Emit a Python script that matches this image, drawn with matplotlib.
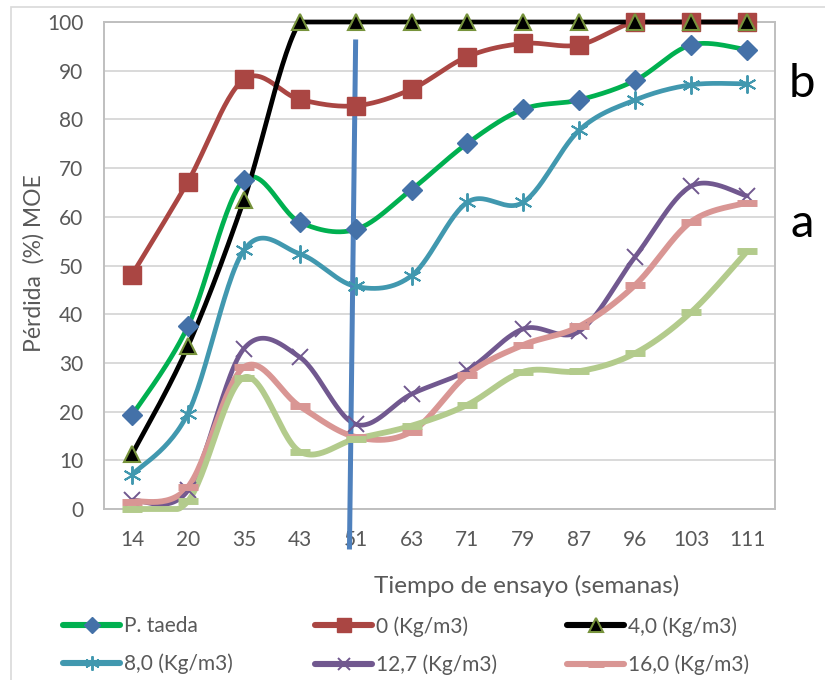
import numpy as np
import matplotlib
matplotlib.use('Agg')
import matplotlib.pyplot as plt
from matplotlib.lines import Line2D
from matplotlib.patches import Rectangle

plt.rcParams['font.family'] = ['Lato', 'DejaVu Sans']

# data
semanas = ['14', '20', '35', '43', '51', '63', '71', '79', '87', '96', '103', '111']
p_taeda = [19.2, 37.5, 67.5, 58.9, 57.4, 65.6, 75.1, 82.1, 84.0, 88.0, 95.3, 94.3]
dosis_0 = [48.1, 67.2, 88.2, 84.1, 82.8, 86.2, 92.9, 95.6, 95.3, 100, 100, 100]
dosis_4 = [11.2, 33.4, 63.4, 100, 100, 100, 100, 100, 100, 100, 100, 100]
dosis_8 = [7.0, 19.6, 53.1, 52.4, 45.7, 47.9, 63.0, 63.0, 77.8, 84.0, 87.1, 87.3]
dosis_12 = [1.8, 3.8, 32.9, 31.2, 17.4, 23.6, 28.5, 37.0, 36.5, 51.8, 66.3, 64.3]
dosis_16 = [1.5, 4.5, 29.1, 21.1, 14.8, 15.9, 27.6, 33.7, 37.5, 46.0, 59.0, 62.9]
sin_leyenda = [0.0, 1.6, 27.0, 11.8, 14.4, 17.1, 21.4, 28.2, 28.3, 32.0, 40.4, 52.9]

# hand drawn marker line at week 51 (top/bottom in data units)
corte_x = [4.0, 3.89]
corte_y = [95.9, -7.8]

gris = '#595959'


def smooth(y, n=30):
    # excel-like smoothed line (catmull-rom as bezier)
    x = np.arange(len(y), dtype=float)
    y = np.asarray(y, dtype=float)
    pts = np.column_stack([x, y])
    out = []
    for i in range(len(pts) - 1):
        p0 = pts[max(i - 1, 0)]
        p1 = pts[i]
        p2 = pts[i + 1]
        p3 = pts[min(i + 2, len(pts) - 1)]
        c1 = p1 + (p2 - p0) / 6.0
        c2 = p2 - (p3 - p1) / 6.0
        t = np.linspace(0, 1, n)[:, None]
        seg = ((1 - t) ** 3) * p1 + 3 * ((1 - t) ** 2) * t * c1 + 3 * (1 - t) * t ** 2 * c2 + t ** 3 * p2
        out.append(seg)
    out = np.vstack(out)
    return out[:, 0], np.clip(out[:, 1], 0, 100)


fig = plt.figure(figsize=(8.25, 6.8), dpi=100)
ax = fig.add_axes([104 / 825, 1 - 509 / 680, 671 / 825, 487 / 680])

series = [
    (p_taeda, '#00B050', 3.4, dict(marker='D', ms=10, mfc='#4471A8', mec='#4471A8')),
    (dosis_0, '#AA4643', 3.4, dict(marker='s', ms=12.5, mfc='#AA4643', mec='#AA4643')),
    (dosis_4, 'black', 3.4, dict(marker='^', ms=12, mfc='black', mec='#77933C', mew=1.5)),
    (dosis_8, '#4198AF', 3.4, dict(marker=(6, 2, 0), ms=13, mfc='#4198AF', mec='#4198AF', mew=1.4)),
    (dosis_12, '#71588F', 3.4, dict(marker='x', ms=11, mfc='#71588F', mec='#71588F', mew=1.4)),
    (dosis_16, '#D99694', 4.2, dict(marker='_', ms=14, mfc='#D99694', mec='#D99694', mew=5)),
    (sin_leyenda, '#B3CB8C', 4.2, dict(marker='_', ms=14, mfc='#B3CB8C', mec='#B3CB8C', mew=5)),
]

x = np.arange(len(semanas))
for k, (vals, col, lw, mk) in enumerate(series):
    sx, sy = smooth(vals)
    ax.plot(sx, sy, color=col, lw=lw, solid_capstyle='round', zorder=3 + k, clip_on=False)
for k, (vals, col, lw, mk) in enumerate(series):
    ax.plot(x, vals, ls='none', zorder=12 + k, clip_on=False, **mk)

ax.plot(corte_x, corte_y, color='#4F81BD', lw=3.6, zorder=11, clip_on=False)

ax.set_xlim(-0.5, 11.5)
ax.set_ylim(0, 100)
ax.set_yticks(range(0, 101, 10))
ax.set_xticks(x)
ax.set_xticklabels(semanas)
ax.tick_params(length=0, labelsize=15, labelcolor=gris)
ax.tick_params(axis='y', pad=15)
ax.tick_params(axis='x', pad=15)
ax.grid(axis='y', color='#D9D9D9', lw=1.4)
ax.set_axisbelow(True)
for s in ['left', 'bottom', 'right', 'top']:
    ax.spines[s].set_color('#BFBFBF')
    ax.spines[s].set_linewidth(1.4)

fig.text(527 / 825, 1 - 586 / 680, 'Tiempo de ensayo (semanas)', fontsize=17.5, color=gris,
         ha='center', va='center')
fig.text(34 / 825, 1 - 263 / 680, 'Pérdida  (%) MOE', fontsize=16.5, color=gris,
         rotation=90, ha='center', va='center')
fig.text(802 / 825, 1 - 97 / 680, 'b', fontsize=34, ha='center', va='baseline')
fig.text(802 / 825, 1 - 237 / 680, 'a', fontsize=34, ha='center', va='baseline')

# chart outer border
fig.patches.append(Rectangle((11 / 825, -0.05), 1.2, 1 - 7 / 680 + 0.05, transform=fig.transFigure,
                             fill=False, edgecolor='#D9D9D9', lw=1.2))

nombres = ['P. taeda', '0 (Kg/m3)', '4,0 (Kg/m3)', '8,0 (Kg/m3)', '12,7 (Kg/m3)', '16,0 (Kg/m3)']
handles = []
for (vals, col, lw, mk), name in zip(series[:6], nombres):
    mk = dict(mk)
    mk['ms'] = mk['ms'] * 0.8
    handles.append(Line2D([], [], color=col, lw=4.4, solid_capstyle='round', label=name, **mk))

col_x = [63, 315, 567]
for c in range(3):
    leg = fig.legend(handles=[handles[c], handles[c + 3]], loc='upper left',
                     bbox_to_anchor=(col_x[c] / 825, 1 - 616 / 680), frameon=False,
                     fontsize=15, handlelength=2.75, handletextpad=0.2, borderpad=0,
                     borderaxespad=0, labelspacing=0.85, labelcolor=gris)

fig.savefig('out.png', dpi=100)
